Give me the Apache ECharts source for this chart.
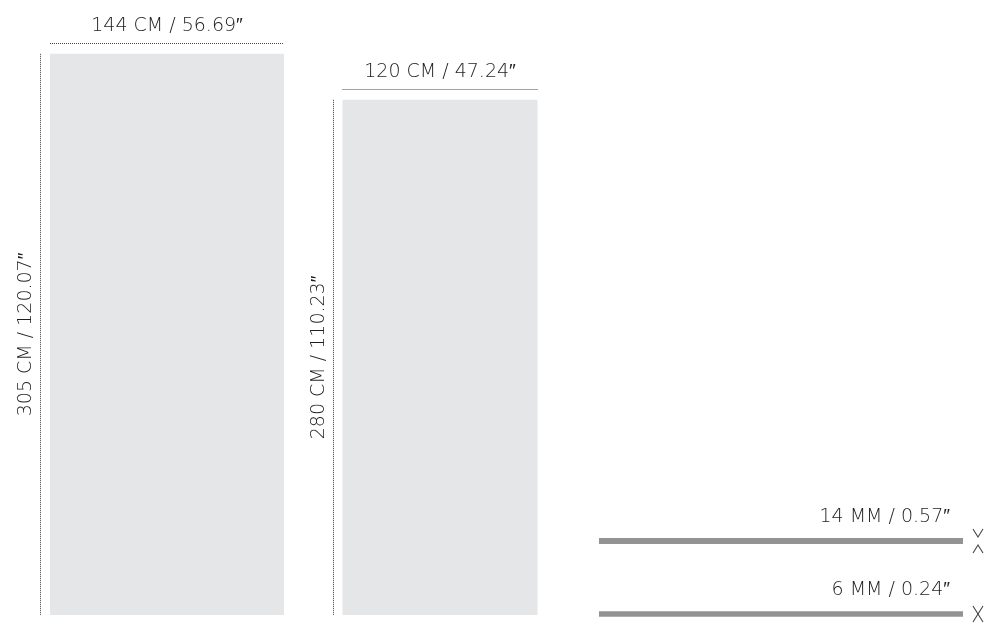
<!DOCTYPE html>
<html>
<head>
<meta charset="utf-8">
<script src="https://cdn.jsdelivr.net/npm/echarts@6/dist/echarts.min.js"></script>
<style>
  html, body { margin: 0; padding: 0; background: #fff; }
  #chart { width: 989px; height: 625px; }
</style>
</head>
<body>
<div id="chart"></div>
<script>
// slab sizes
const slabWidthCm = [144, 120];
const slabWidthIn = ['56.69', '47.24'];
const slabHeightCm = [305, 280];
const slabHeightIn = ['120.07', '110.23'];

// thickness samples
const thicknessMm = [14, 6];
const thicknessIn = ['0.57', '0.24'];

// layout
const pxPerCmX = 1.625;
const pxPerCmY = 1.84;
const slabGapCm = 36;
const textColor = '#1e1e1e';
const dotColor = '#444';
const fontFamily = 'DejaVu Sans';

const chart = echarts.init(document.getElementById('chart'));

let offset = 0;
const slabData = slabWidthCm.map((w, i) => {
  const item = [offset, w, slabHeightCm[i]];
  offset += w + slabGapCm;
  return item;
});

const textStyle = (text, align) => ({
  text: text,
  fill: textColor,
  font: '200 19px "' + fontFamily + '", sans-serif',
  align: align,
  verticalAlign: 'middle'
});

const renderSlab = (params, api) => {
  const i = params.dataIndex;
  const x0 = api.value(0);
  const w = api.value(1);
  const h = api.value(2);
  const tl = api.coord([x0, h]);
  const br = api.coord([x0 + w, 0]);
  const lineY = Math.round(tl[1] - 11) + 0.5;
  const lineX = Math.round(tl[0] - 10) + 0.5;
  return {
    type: 'group',
    children: [
      {
        type: 'rect',
        shape: {x: tl[0], y: tl[1], width: br[0] - tl[0], height: br[1] - tl[1]},
        style: {fill: '#e5e6e8'}
      },
      {
        type: 'line',
        shape: {x1: tl[0], y1: lineY, x2: br[0], y2: lineY},
        style: {stroke: dotColor, lineWidth: 1, lineDash: [1, 1]}
      },
      {
        type: 'text',
        x: (tl[0] + br[0]) / 2,
        y: lineY - 17,
        style: textStyle(slabWidthCm[i] + ' CM / ' + slabWidthIn[i] + '\u2033', 'center')
      },
      {
        type: 'line',
        shape: {x1: lineX, y1: tl[1], x2: lineX, y2: br[1]},
        style: {stroke: dotColor, lineWidth: 1, lineDash: [1, 1]}
      },
      {
        type: 'text',
        x: lineX - 14,
        y: (tl[1] + br[1]) / 2,
        rotation: Math.PI / 2,
        style: textStyle(slabHeightCm[i] + ' CM / ' + slabHeightIn[i] + '\u2033', 'center')
      }
    ]
  };
};

const renderSample = (params, api) => {
  const i = params.dataIndex;
  const idx = api.value(0);
  const mm = api.value(1);
  const a = api.coord([0, idx]);
  const b = api.coord([1, idx]);
  const cy = Math.round(a[1]);
  const lw = 5 + mm / 14;
  const hg = (mm - 6) / 2;
  const cx = b[0] + 15;
  return {
    type: 'group',
    children: [
      {
        type: 'line',
        shape: {x1: a[0], y1: cy, x2: b[0], y2: cy},
        style: {stroke: '#939393', lineWidth: lw}
      },
      {
        type: 'polyline',
        shape: {points: [[cx - 5, cy - hg - 8], [cx, cy - hg], [cx + 5, cy - hg - 8]]},
        style: {stroke: '#444', lineWidth: 1.1, fill: null}
      },
      {
        type: 'polyline',
        shape: {points: [[cx - 5, cy + hg + 8], [cx, cy + hg], [cx + 5, cy + hg + 8]]},
        style: {stroke: '#444', lineWidth: 1.1, fill: null}
      },
      {
        type: 'text',
        x: b[0] - 13,
        y: cy - 24,
        style: textStyle(thicknessMm[i] + ' MM / ' + thicknessIn[i] + '\u2033', 'right')
      }
    ]
  };
};

const hiddenAxis = {show: false, splitLine: {show: false}};

chart.setOption({
  animation: false,
  grid: [
    {left: 50, right: 0, top: 0, bottom: 10},
    {left: 599, width: 364, top: 500, height: 125}
  ],
  xAxis: [
    Object.assign({type: 'value', gridIndex: 0, min: 0, max: 939 / pxPerCmX}, hiddenAxis),
    Object.assign({type: 'value', gridIndex: 1, min: 0, max: 1}, hiddenAxis)
  ],
  yAxis: [
    Object.assign({type: 'value', gridIndex: 0, min: 0, max: 615 / pxPerCmY}, hiddenAxis),
    // sample rows sit at index 0 and 1
    Object.assign({type: 'value', gridIndex: 1, inverse: true, min: -41 / 73, max: 84 / 73}, hiddenAxis)
  ],
  series: [
    {
      type: 'custom',
      xAxisIndex: 0,
      yAxisIndex: 0,
      renderItem: renderSlab,
      data: slabData,
      silent: true
    },
    {
      type: 'custom',
      xAxisIndex: 1,
      yAxisIndex: 1,
      renderItem: renderSample,
      encode: {y: 0},
      data: thicknessMm.map((mm, i) => [i, mm]),
      silent: true
    }
  ]
});
</script>
</body>
</html>
